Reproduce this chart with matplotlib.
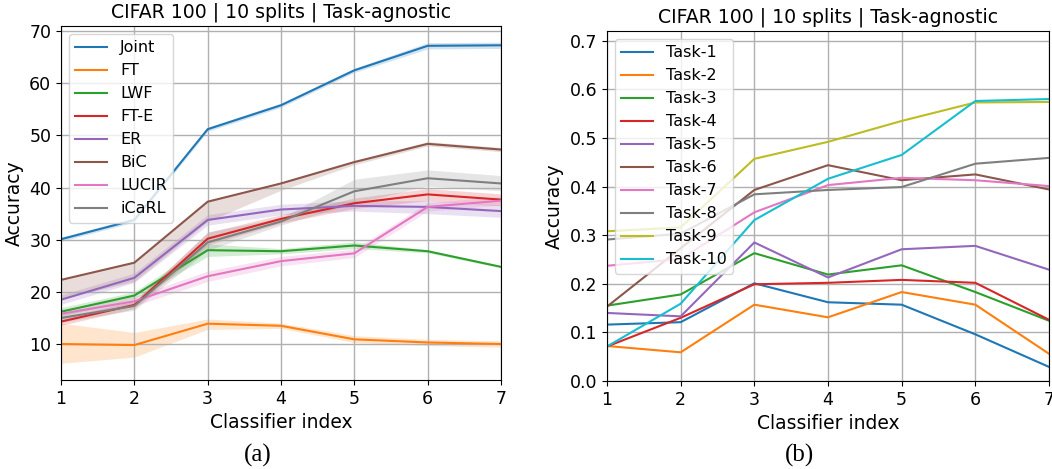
import matplotlib
matplotlib.use("Agg")
import matplotlib.pyplot as plt

# ---- data: panel (a), mean accuracy and band limits per method ----
steps = [1, 2, 3, 4, 5, 6, 7]
methods = ['Joint', 'FT', 'LWF', 'FT-E', 'ER', 'BiC', 'LUCIR', 'iCaRL']

joint = [30.1, 33.8, 51.2, 55.8, 62.5, 67.2, 67.3]
joint_lo = [29.7, 33.4, 50.8, 55.4, 62.1, 66.6, 66.7]
joint_hi = [30.5, 34.2, 51.6, 56.2, 62.9, 67.8, 67.9]

ft = [10.0, 9.8, 13.9, 13.5, 10.9, 10.3, 10.0]
ft_lo = [6.3, 7.5, 12.8, 13.0, 10.3, 9.7, 9.4]
ft_hi = [14.0, 12.2, 14.8, 14.0, 11.6, 10.9, 10.6]

lwf = [16.2, 19.3, 28.0, 27.8, 28.9, 27.8, 24.8]
lwf_lo = [15.4, 18.6, 26.8, 27.3, 28.3, 27.5, 24.6]
lwf_hi = [17.0, 20.0, 29.2, 28.3, 29.6, 28.1, 25.0]

fte = [14.3, 17.5, 30.2, 34.0, 37.0, 38.7, 37.7]
fte_lo = [13.6, 16.8, 29.0, 33.2, 36.0, 37.5, 36.5]
fte_hi = [15.0, 18.2, 31.4, 34.8, 38.0, 39.8, 38.8]

er = [18.5, 22.7, 33.8, 35.8, 36.5, 36.3, 35.5]
er_lo = [17.6, 21.8, 32.8, 34.8, 35.5, 35.0, 34.3]
er_hi = [19.4, 23.6, 34.8, 36.8, 37.5, 37.5, 36.7]

bic = [22.3, 25.6, 37.3, 40.8, 44.9, 48.4, 47.3]
bic_lo = [18.7, 22.0, 33.5, 39.5, 44.4, 48.0, 46.9]
bic_hi = [22.5, 25.8, 37.5, 41.0, 45.2, 48.8, 47.7]

lucir = [15.8, 18.2, 23.0, 25.9, 27.4, 36.3, 37.5]
lucir_lo = [15.0, 17.3, 22.0, 25.0, 26.6, 35.5, 36.7]
lucir_hi = [16.6, 19.1, 24.0, 26.8, 28.2, 37.1, 38.3]

icarl = [15.0, 17.3, 29.5, 33.5, 39.3, 41.8, 40.8]
icarl_lo = [14.2, 16.5, 28.0, 32.8, 37.0, 40.3, 39.4]
icarl_hi = [15.8, 18.1, 31.5, 34.2, 41.6, 43.4, 42.3]

# ---- data: panel (b), per-task accuracy ----
task_names = ['Task-%d' % i for i in range(1, 11)]
task1 = [0.116, 0.121, 0.201, 0.162, 0.157, 0.096, 0.029]
task2 = [0.072, 0.059, 0.157, 0.131, 0.183, 0.157, 0.056]
task3 = [0.155, 0.178, 0.263, 0.219, 0.238, 0.183, 0.124]
task4 = [0.071, 0.130, 0.199, 0.202, 0.208, 0.202, 0.126]
task5 = [0.140, 0.133, 0.285, 0.213, 0.271, 0.278, 0.229]
task6 = [0.153, 0.273, 0.393, 0.444, 0.413, 0.425, 0.394]
task7 = [0.237, 0.251, 0.347, 0.403, 0.418, 0.413, 0.401]
task8 = [0.291, 0.303, 0.384, 0.393, 0.399, 0.447, 0.459]
task9 = [0.308, 0.316, 0.457, 0.492, 0.535, 0.573, 0.574]
task10 = [0.071, 0.159, 0.331, 0.416, 0.465, 0.576, 0.580]

title = 'CIFAR 100 | 10 splits | Task-agnostic'

fig = plt.figure(figsize=(10.52, 4.69), dpi=100)
ax1 = fig.add_axes([61 / 1052, 89 / 469, 440 / 1052, 354 / 469])
ax2 = fig.add_axes([607 / 1052, 88 / 469, 442 / 1052, 350 / 469])

# panel (a)
means = [joint, ft, lwf, fte, er, bic, lucir, icarl]
lows = [joint_lo, ft_lo, lwf_lo, fte_lo, er_lo, bic_lo, lucir_lo, icarl_lo]
highs = [joint_hi, ft_hi, lwf_hi, fte_hi, er_hi, bic_hi, lucir_hi, icarl_hi]
colors = plt.cm.tab10.colors
for i, name in enumerate(methods):
    ax1.plot(steps, means[i], color=colors[i], lw=1.5, label=name)
    ax1.fill_between(steps, lows[i], highs[i], color=colors[i], alpha=0.2, lw=0)

ax1.set_xlim(1, 7)
ax1.set_ylim(3.1, 71)
ax1.set_yticks([10, 20, 30, 40, 50, 60, 70])
ax1.set_xticks(steps)
ax1.grid(True, color='#b0b0b0', lw=1)
ax1.set_title(title, fontsize=13.6)
ax1.set_xlabel('Classifier index', fontsize=13.5)
ax1.set_ylabel('Accuracy', fontsize=13.5)
ax1.tick_params(labelsize=12.5)
ax1.legend(loc='upper left', fontsize=11.5)

# panel (b)
tasks = [task1, task2, task3, task4, task5, task6, task7, task8, task9, task10]
for i, name in enumerate(task_names):
    ax2.plot(steps, tasks[i], color=colors[i], lw=1.5, label=name)

ax2.set_xlim(1, 7)
ax2.set_ylim(0, 0.72)
ax2.set_xticks(steps)
ax2.grid(True, color='#b0b0b0', lw=1)
ax2.set_title(title, fontsize=13.6)
ax2.set_xlabel('Classifier index', fontsize=13.5)
ax2.set_ylabel('Accuracy', fontsize=13.5)
ax2.tick_params(labelsize=12.5)
ax2.legend(loc='upper left', fontsize=11.5)

# sub-figure captions
fig.text(258 / 1052, 1 - 455 / 469, '(a)', ha='center', va='center',
         fontsize=18, family='Liberation Serif')
fig.text(800 / 1052, 1 - 455 / 469, '(b)', ha='center', va='center',
         fontsize=18, family='Liberation Serif')

fig.savefig('out.png', dpi=100)
